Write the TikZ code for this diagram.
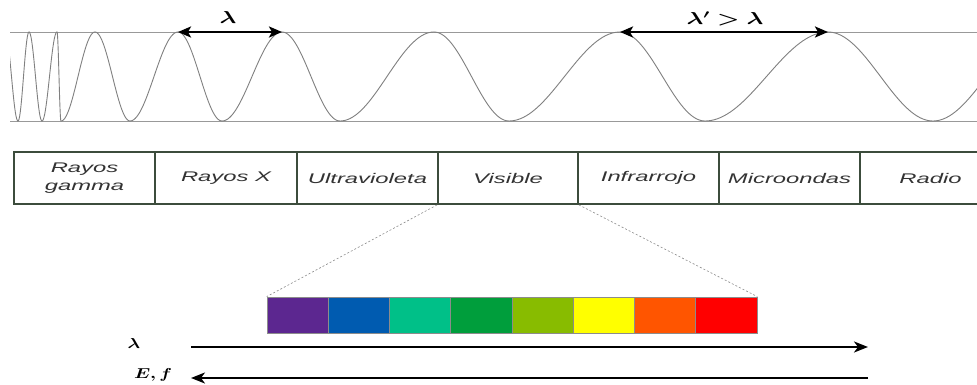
\documentclass[tikz,border=0pt]{standalone}
\usepackage{fontspec}
\usepackage{amsmath,bm}
\usetikzlibrary{arrows.meta}
\newfontfamily\hv{Liberation Sans}
\newcommand{\stx}[1]{\scalebox{1.7}[1]{#1}}
\newcommand{\mstx}[1]{\scalebox{1.45}[1]{#1}}
\newcommand{\sstx}[1]{\scalebox{1.3}[1]{#1}}
\definecolor{cellc}{HTML}{3C4C3C}
\definecolor{txtc}{HTML}{333333}
\definecolor{cA}{HTML}{5C2790}
\definecolor{cB}{HTML}{005BB0}
\definecolor{cC}{HTML}{00C088}
\definecolor{cD}{HTML}{009E3C}
\definecolor{cE}{HTML}{88BC00}
\definecolor{cF}{HTML}{FFFF00}
\definecolor{cG}{HTML}{FF5500}
\definecolor{cH}{HTML}{FF0000}
\tikzset{
  wave/.style={draw=black!50, line width=0.9pt, line cap=round},
  guide/.style={draw=black!40, line width=0.9pt},
  cell/.style={draw=cellc, line width=1.8pt, minimum height=52pt, inner sep=0pt,
    font=\hv\itshape\fontsize{14}{19}\selectfont, text=txtc, align=center},
  band/.style={draw=black!45, line width=0.7pt, minimum height=36pt, minimum width=61.25pt, inner sep=0pt},
  bigarrow/.style={line width=2.4pt, {Stealth[length=13pt,width=11pt,inset=3pt]}-{Stealth[length=13pt,width=11pt,inset=3pt]}},
  axisarrow/.style={line width=1.8pt, -{Stealth[length=14pt,width=11pt,inset=4pt]}},
  zoomline/.style={draw=black!45, line width=0.6pt, dash pattern=on 2pt off 2pt},
  mlabel/.style={inner sep=0pt}
}
\begin{document}
\begin{tikzpicture}[x=1pt,y=-1pt]
\path[use as bounding box, clip] (0,0) rectangle (977,385);
\fill[white] (0,0) rectangle (977,385);
% guide lines
\draw[guide] (10,32) -- (977,32);
\draw[guide] (10,121) -- (977,121);
% wave
\begin{scope}
\clip (10,0) rectangle (977,140);
\foreach \a/\b/\s in {5/18/-1, 18/29/1, 29/42/-1, 42/57/1, 57/61/-1, 61/95/1, 95/130/-1, 130/178/1,
  178/222/-1, 222/282/1, 282/340/-1, 340/434/1, 434/509/-1, 509/620/1, 620/705/-1, 705/828/1,
  828/933/-1, 933/1040/1}
  \draw[wave] plot[domain=0:180, samples=40, smooth] ({\a+(\b-\a)*(\x/180)},{76.5+\s*44.5*cos(\x)});
\end{scope}
% wavelength arrows
\coordinate (pA) at (178,32);
\coordinate (pB) at (282,32);
\coordinate (pC) at (620,32);
\coordinate (pD) at (828,32);
\draw[bigarrow] (pA) -- (pB);
\draw[bigarrow] (pC) -- (pD);
\node[mlabel] (lam1) at (228,18) {\fontsize{17}{20}\selectfont\mstx{$\bm{\lambda}$}};
\node[mlabel] (lam2) at (725,19) {\fontsize{17}{20}\selectfont\mstx{$\bm{\lambda' > \lambda}$}};
% spectrum cells
\node[cell, minimum width=141pt] (gam) at (84.5,178) {\stx{Rayos}\\[-1pt]\stx{gamma}};
\node[cell, minimum width=142pt] (xr) at (226,178) {\stx{Rayos X}};
\node[cell, minimum width=141pt] (uv) at (367.5,178) {\stx{Ultravioleta}};
\node[cell, minimum width=140pt] (vis) at (508,178) {\stx{Visible}};
\node[cell, minimum width=141pt] (ir) at (648.5,178) {\stx{Infrarrojo}};
\node[cell, minimum width=141pt] (mw) at (789.5,178) {\stx{Microondas}};
\node[cell, minimum width=141pt] (rad) at (930.5,178) {\stx{Radio}};
% visible band
\node[band, fill=cA] (b1) at (297.625,315) {};
\node[band, fill=cB] (b2) at (358.875,315) {};
\node[band, fill=cC] (b3) at (420.125,315) {};
\node[band, fill=cD] (b4) at (481.375,315) {};
\node[band, fill=cE] (b5) at (542.625,315) {};
\node[band, fill=cF] (b6) at (603.875,315) {};
\node[band, fill=cG] (b7) at (665.125,315) {};
\node[band, fill=cH] (b8) at (726.375,315) {};
\draw[zoomline] (vis.south west) -- (b1.north west);
\draw[zoomline] (vis.south east) -- (b8.north east);
% axes
\coordinate (aL1) at (191,347);
\coordinate (aR1) at (868,347);
\coordinate (aL2) at (191,378);
\coordinate (aR2) at (868,378);
\draw[axisarrow] (aL1) -- (aR1);
\draw[axisarrow] (aR2) -- (aL2);
\node[mlabel] (lamb) at (134,343) {\fontsize{14}{16}\selectfont\sstx{$\bm{\lambda}$}};
\node[mlabel] (ef) at (153,375) {\fontsize{14}{16}\selectfont\sstx{$\bm{E, f}$}};
\end{tikzpicture}
\end{document}
